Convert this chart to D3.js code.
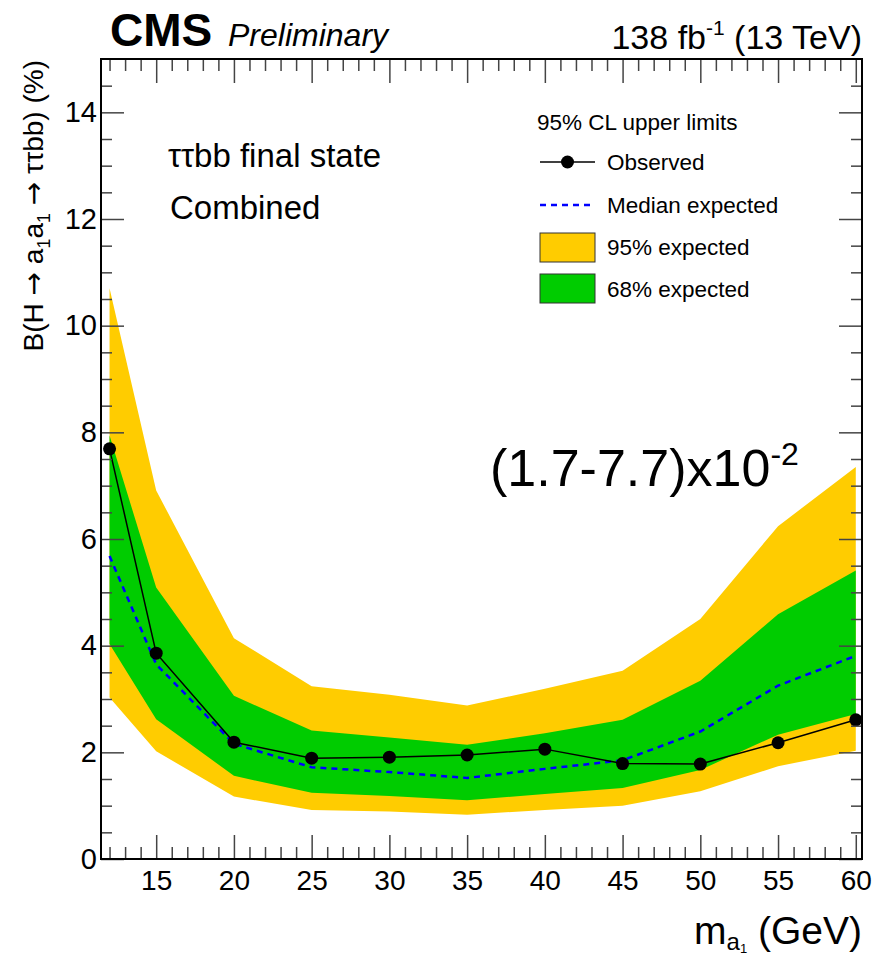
<!DOCTYPE html>
<html>
<head>
<meta charset="utf-8">
<script src="https://cdn.jsdelivr.net/npm/d3@7"></script>
<style>
  body { margin: 0; background: #fff; }
  svg { font-family: "Liberation Sans", Arial, Helvetica, sans-serif; }
  .tick text { font-family: "Liberation Sans", Arial, Helvetica, sans-serif; fill: #000; }
  .arrow { font-family: "DejaVu Sans", sans-serif; }
</style>
</head>
<body>
<div class="chart"></div>
<script>
// a1 mass points (GeV)
const mass = [12, 15, 20, 25, 30, 35, 40, 45, 50, 55, 60];
// 95% CL upper limits on B(H -> a1a1 -> tautau bb), in %
const observed = [7.69, 3.86, 2.19, 1.89, 1.91, 1.95, 2.06, 1.79, 1.78, 2.18, 2.61];
const expected = [5.68, 3.65, 2.16, 1.72, 1.63, 1.52, 1.69, 1.85, 2.39, 3.25, 3.81];
const exp68Lo = [4.03, 2.62, 1.56, 1.24, 1.18, 1.10, 1.22, 1.33, 1.67, 2.33, 2.72];
const exp68Hi = [7.94, 5.09, 3.06, 2.41, 2.28, 2.14, 2.36, 2.61, 3.34, 4.59, 5.41];
const exp95Lo = [3.03, 2.02, 1.17, 0.92, 0.89, 0.83, 0.92, 1.00, 1.27, 1.74, 2.03];
const exp95Hi = [10.7, 6.91, 4.14, 3.24, 3.08, 2.88, 3.19, 3.53, 4.50, 6.24, 7.35];

const xTicks = [15, 20, 25, 30, 35, 40, 45, 50, 55, 60];
const yTicks = [0, 2, 4, 6, 8, 10, 12, 14];

const W = 873, H = 957;
const margin = { top: 59, right: 11, bottom: 98, left: 101 };
const width = W - margin.left - margin.right;
const height = H - margin.top - margin.bottom;

const x = d3.scaleLinear().domain([11.45, 60.4]).range([0, width]);
const y = d3.scaleLinear().domain([0, 15]).range([height, 0]);

const svg = d3.select('.chart').append('svg')
  .attr('width', W)
  .attr('height', H);

const g = svg.append('g')
  .attr('transform', `translate(${margin.left},${margin.top})`);

const rows = mass.map((m, i) => ({
  m, obs: observed[i], exp: expected[i],
  lo68: exp68Lo[i], hi68: exp68Hi[i], lo95: exp95Lo[i], hi95: exp95Hi[i]
}));

// bands
const band = (lo, hi) => d3.area()
  .x(d => x(d.m))
  .y0(d => y(d[lo]))
  .y1(d => y(d[hi]));

g.append('path').datum(rows)
  .attr('fill', '#ffcc00')
  .attr('d', band('lo95', 'hi95'));
g.append('path').datum(rows)
  .attr('fill', '#00cc00')
  .attr('d', band('lo68', 'hi68'));

// median expected
g.append('path').datum(rows)
  .attr('fill', 'none')
  .attr('stroke', '#0000ff')
  .attr('stroke-width', 2.5)
  .attr('stroke-dasharray', '6,5')
  .attr('d', d3.line().x(d => x(d.m)).y(d => y(d.exp)));

// observed
g.append('path').datum(rows)
  .attr('fill', 'none')
  .attr('stroke', '#000')
  .attr('stroke-width', 1.5)
  .attr('d', d3.line().x(d => x(d.m)).y(d => y(d.obs)));
g.selectAll('.obs')
  .data(rows)
  .enter().append('circle')
  .attr('class', 'obs')
  .attr('cx', d => x(d.m))
  .attr('cy', d => y(d.obs))
  .attr('r', 6.5)
  .attr('fill', '#000');

// axes: ticks point inward, on all four sides
const xMinor = d3.range(12, 61).filter(v => v % 5 !== 0);
const yMinor = d3.range(0.5, 15, 0.5).filter(v => v % 2 !== 0);

function styleAxis(sel) {
  sel.select('.domain').remove();
  sel.selectAll('.tick line').attr('stroke', '#444').attr('stroke-width', 1.5);
}

g.append('g')
  .attr('transform', `translate(0,${height})`)
  .call(d3.axisBottom(x).tickValues(xTicks).tickFormat(d3.format('d')).tickSize(-24).tickPadding(11))
  .call(styleAxis)
  .selectAll('text').attr('font-size', 28);
g.append('g')
  .attr('transform', `translate(0,${height})`)
  .call(d3.axisBottom(x).tickValues(xMinor).tickFormat('').tickSize(-12))
  .call(styleAxis);
g.append('g')
  .call(d3.axisTop(x).tickValues(xTicks).tickFormat('').tickSize(-24))
  .call(styleAxis);
g.append('g')
  .call(d3.axisTop(x).tickValues(xMinor).tickFormat('').tickSize(-12))
  .call(styleAxis);

g.append('g')
  .call(d3.axisLeft(y).tickValues(yTicks).tickFormat(d3.format('d')).tickSize(-23).tickPadding(4))
  .call(styleAxis)
  .selectAll('text').attr('font-size', 29);
g.append('g')
  .call(d3.axisLeft(y).tickValues(yMinor).tickFormat('').tickSize(-11))
  .call(styleAxis);
g.append('g')
  .attr('transform', `translate(${width},0)`)
  .call(d3.axisRight(y).tickValues(yTicks).tickFormat('').tickSize(-23))
  .call(styleAxis);
g.append('g')
  .attr('transform', `translate(${width},0)`)
  .call(d3.axisRight(y).tickValues(yMinor).tickFormat('').tickSize(-11))
  .call(styleAxis);

// frame
g.append('rect')
  .attr('width', width)
  .attr('height', height)
  .attr('fill', 'none')
  .attr('stroke', '#000')
  .attr('stroke-width', 2);

// header
svg.append('text')
  .attr('x', 110).attr('y', 46)
  .attr('font-size', 46).attr('font-weight', 'bold')
  .text('CMS');
svg.append('text')
  .attr('x', 228).attr('y', 46)
  .attr('font-size', 32).attr('font-style', 'italic')
  .text('Preliminary');
const lumi = svg.append('text')
  .attr('x', 862).attr('y', 49)
  .attr('font-size', 34).attr('text-anchor', 'end');
lumi.append('tspan').text('138 fb');
lumi.append('tspan').attr('font-size', 21).attr('dy', -14).text('-1');
lumi.append('tspan').attr('dy', 14).text(' (13 TeV)');

// axis titles
const yl = svg.append('text')
  .attr('transform', 'translate(43,60) rotate(-90)')
  .attr('text-anchor', 'end')
  .attr('font-size', 28);
yl.append('tspan').text('B(H ');
yl.append('tspan').attr('class', 'arrow').text('\u2192');
yl.append('tspan').text(' a');
yl.append('tspan').attr('font-size', 18).attr('dy', 7).text('1');
yl.append('tspan').attr('dy', -7).text('a');
yl.append('tspan').attr('font-size', 18).attr('dy', 7).text('1');
yl.append('tspan').attr('dy', -7).text(' ');
yl.append('tspan').attr('class', 'arrow').text('\u2192');
yl.append('tspan').text(' \u03c4\u03c4bb) (%)');

const xl = svg.append('text')
  .attr('x', 862).attr('y', 944)
  .attr('text-anchor', 'end')
  .attr('font-size', 39);
xl.append('tspan').text('m');
xl.append('tspan').attr('font-size', 24).attr('dy', 6).text('a');
xl.append('tspan').attr('font-size', 13).attr('dy', 3).text('1');
xl.append('tspan').attr('dy', -9).text(' (GeV)');

// annotations
svg.append('text')
  .attr('x', 168).attr('y', 167)
  .attr('font-size', 33)
  .text('\u03c4\u03c4bb final state');
svg.append('text')
  .attr('x', 170).attr('y', 219)
  .attr('font-size', 33)
  .text('Combined');

const big = svg.append('text')
  .attr('x', 490).attr('y', 486)
  .attr('font-size', 52);
big.append('tspan').text('(1.7-7.7)x10');
big.append('tspan').attr('font-size', 32).attr('dy', -21).text('-2');

// legend
const leg = svg.append('g');
leg.append('text')
  .attr('x', 537).attr('y', 130)
  .attr('font-size', 22.5)
  .text('95% CL upper limits');

const lx0 = 540, lx1 = 595, tx = 607;
leg.append('line')
  .attr('x1', lx0).attr('x2', lx1).attr('y1', 162).attr('y2', 162)
  .attr('stroke', '#000').attr('stroke-width', 1.5);
leg.append('circle')
  .attr('cx', (lx0 + lx1) / 2).attr('cy', 162).attr('r', 6.5).attr('fill', '#000');
leg.append('line')
  .attr('x1', lx0).attr('x2', lx1).attr('y1', 205).attr('y2', 205)
  .attr('stroke', '#0000ff').attr('stroke-width', 2.5).attr('stroke-dasharray', '6,5');
leg.append('rect')
  .attr('x', lx0).attr('y', 233).attr('width', lx1 - lx0).attr('height', 29)
  .attr('fill', '#ffcc00').attr('stroke', '#333').attr('stroke-width', 1);
leg.append('rect')
  .attr('x', lx0).attr('y', 274).attr('width', lx1 - lx0).attr('height', 29)
  .attr('fill', '#00cc00').attr('stroke', '#333').attr('stroke-width', 1);

const legLabels = ['Observed', 'Median expected', '95% expected', '68% expected'];
const legY = [162, 205, 247, 289];
leg.selectAll('.lt')
  .data(legLabels)
  .enter().append('text')
  .attr('class', 'lt')
  .attr('x', tx)
  .attr('y', (d, i) => legY[i] + 8)
  .attr('font-size', 22.5)
  .text(d => d);
</script>
</body>
</html>
